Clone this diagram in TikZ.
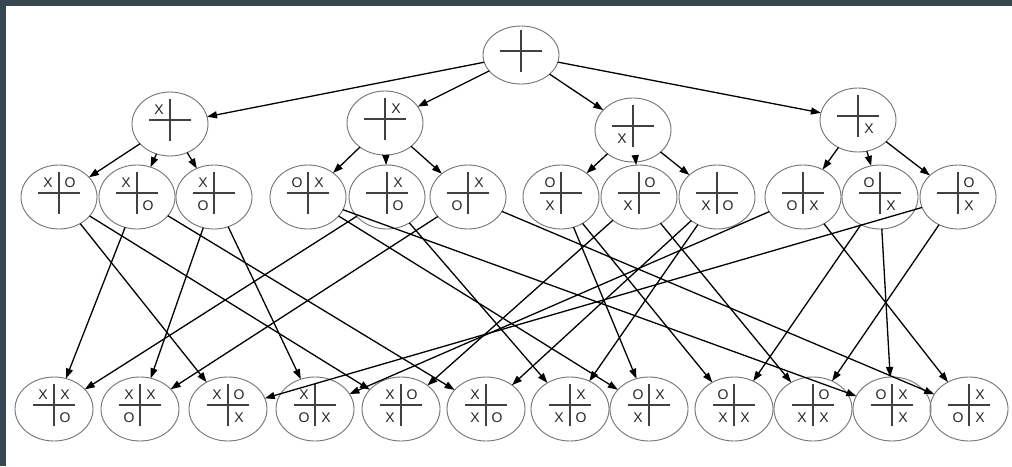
\documentclass[tikz,border=0pt]{standalone}
\usepackage{fontspec}
\setmainfont{Liberation Sans}
\usetikzlibrary{shapes.geometric,arrows.meta}
\definecolor{framecol}{HTML}{37474F}
\newcommand{\tttb}[8][]{%
  \node[st,#1] (#2) at (#3,#4) {};
  \draw[grid] ({#3-21},{#4-4}) -- ({#3+21},{#4-4});
  \draw[grid] (#3,{#4-25}) -- (#3,{#4+17});
  \node[mk] at ({#3-11},{#4-14}) {#5};
  \node[mk] at ({#3+11},{#4-14}) {#6};
  \node[mk] at ({#3-11},{#4+9}) {#7};
  \node[mk] at ({#3+11},{#4+9}) {#8};
}
\begin{document}
\begin{tikzpicture}[x=1pt,y=-1pt,
  st/.style={ellipse,draw=black!55,line width=0.9pt,minimum width=76pt,minimum height=64pt,inner sep=0pt,outer sep=0pt},
  grid/.style={draw=black!75,line width=1.1pt},
  mk/.style={font=\fontsize{14}{14}\selectfont,text=black!85,inner sep=0pt},
  edge/.style={draw=black,line width=1.3pt,-{Triangle[length=10pt,width=7pt]}}]
\fill[framecol] (0,0) rectangle (1012,466);
\fill[white] (6,6) rectangle (1012,466);
\useasboundingbox (0,0) rectangle (1012,466);
% root
\tttb[minimum height=58pt]{r}{521}{55}{}{}{}{}
% level 1
\tttb{a}{170}{124}{X}{}{}{}
\tttb{b}{385}{123}{}{X}{}{}
\tttb{c}{633}{130}{}{}{X}{}
\tttb{d}{858}{120}{}{}{}{X}
% level 2
\tttb{a1}{59}{197}{X}{O}{}{}
\tttb{a2}{137}{197}{X}{}{}{O}
\tttb{a3}{214}{197}{X}{}{O}{}
\tttb{b1}{308}{197}{O}{X}{}{}
\tttb{b2}{387}{197}{}{X}{}{O}
\tttb{b3}{468}{197}{}{X}{O}{}
\tttb{c1}{561}{197}{O}{}{X}{}
\tttb{c2}{639}{197}{}{O}{X}{}
\tttb{c3}{717}{197}{}{}{X}{O}
\tttb{d1}{803}{197}{}{}{O}{X}
\tttb{d2}{880}{197}{O}{}{}{X}
\tttb{d3}{958}{197}{}{O}{}{X}
% level 3
\tttb[minimum width=78pt]{n1}{54}{409}{X}{X}{}{O}
\tttb[minimum width=78pt]{n2}{140}{409}{X}{X}{O}{}
\tttb[minimum width=78pt]{n3}{228}{409}{X}{O}{}{X}
\tttb[minimum width=78pt]{n4}{315}{409}{X}{}{O}{X}
\tttb[minimum width=78pt]{n5}{401}{409}{X}{O}{X}{}
\tttb[minimum width=78pt]{n6}{486}{409}{X}{}{X}{O}
\tttb[minimum width=78pt]{n7}{570}{409}{}{X}{X}{O}
\tttb[minimum width=78pt]{n8}{649}{409}{O}{X}{X}{}
\tttb[minimum width=78pt]{n9}{734}{409}{O}{}{X}{X}
\tttb[minimum width=78pt]{n10}{813}{409}{}{O}{X}{X}
\tttb[minimum width=78pt]{n11}{892}{409}{O}{X}{}{X}
\tttb[minimum width=78pt]{n12}{969}{409}{}{X}{O}{X}
% edges root -> level 1
\foreach \t in {a,b,c,d} \draw[edge] (r) -- (\t);
% level 1 -> level 2
\foreach \s in {a,b,c,d} \foreach \k in {1,2,3} \draw[edge] (\s) -- (\s\k);
% level 2 -> level 3
\foreach \s/\t in {a1/n3,a1/n5,a2/n1,a2/n6,a3/n2,a3/n4,b1/n8,b1/n11,b2/n1,b2/n7,b3/n2,b3/n12,c1/n8,c1/n9,c2/n5,c2/n10,c3/n6,c3/n7,d1/n4,d1/n12,d2/n11,d2/n9,d3/n3,d3/n10}
  \draw[edge] (\s) -- (\t);
\end{tikzpicture}
\end{document}
